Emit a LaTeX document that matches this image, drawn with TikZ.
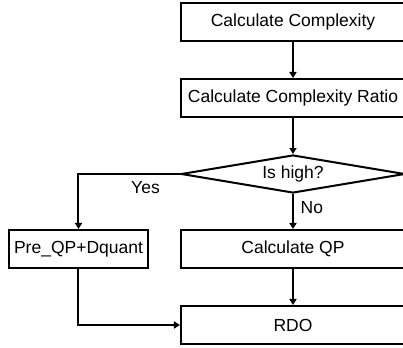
\documentclass[tikz,border=0pt]{standalone}
\usepackage{fontspec}
\setmainfont{Liberation Sans}
\usetikzlibrary{arrows.meta,positioning,shapes.geometric}

\begin{document}
\begin{tikzpicture}[
  node distance=18pt and 15.5pt,
  box/.style={draw, line width=1pt, minimum width=112pt, minimum height=19pt,
    inner sep=0pt, font=\fontsize{8.75}{10}\selectfont, align=center},
  decision/.style={draw, diamond, line width=1pt, aspect=5.9, minimum width=112pt,
    minimum height=19pt, inner sep=0pt, font=\fontsize{8.75}{10}\selectfont},
  lbl/.style={font=\fontsize{8.75}{10}\selectfont},
  arrow/.style={-{Triangle[length=3pt,width=3.5pt]}, line width=1pt}
]
\clip (0,0) rectangle (201.5pt,-174pt);

\node[box] (cplx) at (146.5pt,-11pt) {Calculate Complexity};
\node[box, below=of cplx] (ratio) {Calculate Complexity Ratio};
\node[decision, below=of ratio] (high) {Is high?};
\node[box, below=17.5pt of high] (qp) {Calculate QP};
\node[box, minimum width=69.5pt, left=of qp] (preqp) {Pre\_QP+Dquant};
\node[box, below=of qp] (rdo) {RDO};

\draw[arrow] (cplx) -- (ratio);
\draw[arrow] (ratio) -- (high);
\draw[arrow] (high) -- node[lbl, right, pos=0.4] {No} (qp);
\draw[arrow] (high.west) -| node[lbl, below, pos=0.17] {Yes} (preqp);
\draw[arrow] (preqp) |- (rdo);
\draw[arrow] (qp) -- (rdo);
\end{tikzpicture}
\end{document}
